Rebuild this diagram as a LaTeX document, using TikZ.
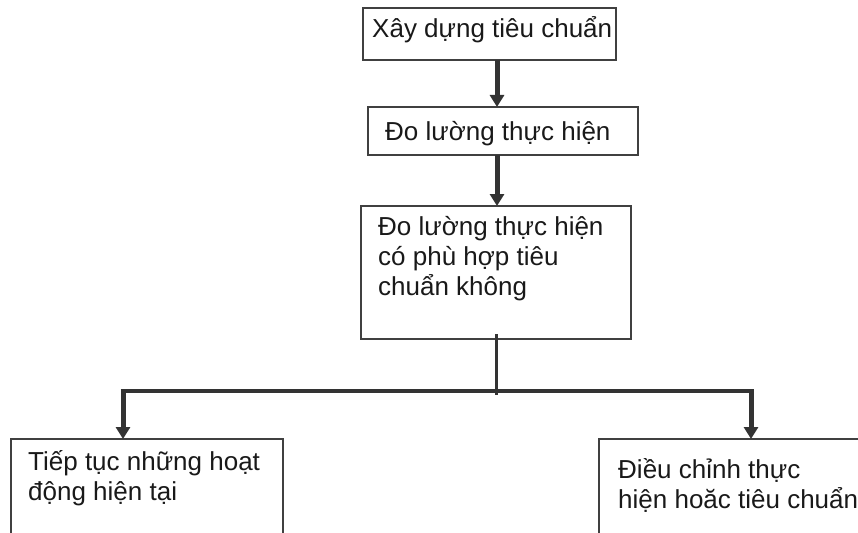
\documentclass[tikz,border=0pt]{standalone}
\usepackage{fontspec}
\setmainfont{Liberation Sans}
\usetikzlibrary{arrows.meta}
\definecolor{boxgray}{HTML}{404040}
\definecolor{linegray}{HTML}{333333}
\begin{document}
\begin{tikzpicture}[x=1pt,y=-1pt,
  box/.style={draw=boxgray, line width=1.4pt, rectangle, anchor=north west,
    inner sep=0pt, outer sep=0pt},
  lbl/.style={anchor=base west, inner sep=0pt, align=left, text=black!90,
    font=\fontsize{26}{30}\selectfont},
  conn/.style={draw=linegray, line width=4pt},
  arr/.style={draw=linegray, line width=5pt, -{Triangle[width=14pt,length=12pt]}}]
\useasboundingbox (0,0) rectangle (858,532);
\begin{scope}
\clip (0,0) rectangle (858,532);
% boxes
\node[box, minimum width=253pt, minimum height=52pt] (b1) at (363,8) {};
\node[box, minimum width=270pt, minimum height=48pt] (b2) at (368,107) {};
\node[box, minimum width=270pt, minimum height=133pt] (b3) at (361,206) {};
\node[box, minimum width=272pt, minimum height=110pt] (b4) at (11,439) {};
\node[box, minimum width=272pt, minimum height=110pt] (b5) at (599,439) {};
\end{scope}
% texts (anchored at the baseline of the last line)
\node[lbl] (t1) at (372,38) {Xây dựng tiêu chuẩn};
\node[lbl] (t2) at (385,140) {Đo lường thực hiện};
\node[lbl] (t3) at (378,295) {Đo lường thực hiện\\có phù hợp tiêu\\chuẩn không};
\node[lbl] (t4) at (28,500) {Tiếp tục những hoạt\\động hiện tại};
\node[lbl] (t5) at (618,508) {Điều chỉnh thực\\hiện hoăc tiêu chuẩn};
% connectors
\coordinate (c1) at (497,0);
\coordinate (stemtop) at (496,334);
\coordinate (j) at (496,395);
\coordinate (lx) at (123,391);
\coordinate (rx) at (751,391);
\draw[arr] (b1.south -| c1) -- (b2.north -| c1);
\draw[arr] (b2.south -| c1) -- (b3.north -| c1);
\draw[conn, line width=3pt] (stemtop) -- (j);
\draw[conn] ([xshift=-2.5pt]lx) -- ([xshift=2.5pt]rx);
\draw[arr] ([yshift=-2pt]lx) -- (b4.north -| lx);
\draw[arr] ([yshift=-2pt]rx) -- (b5.north -| rx);
\end{tikzpicture}
\end{document}
